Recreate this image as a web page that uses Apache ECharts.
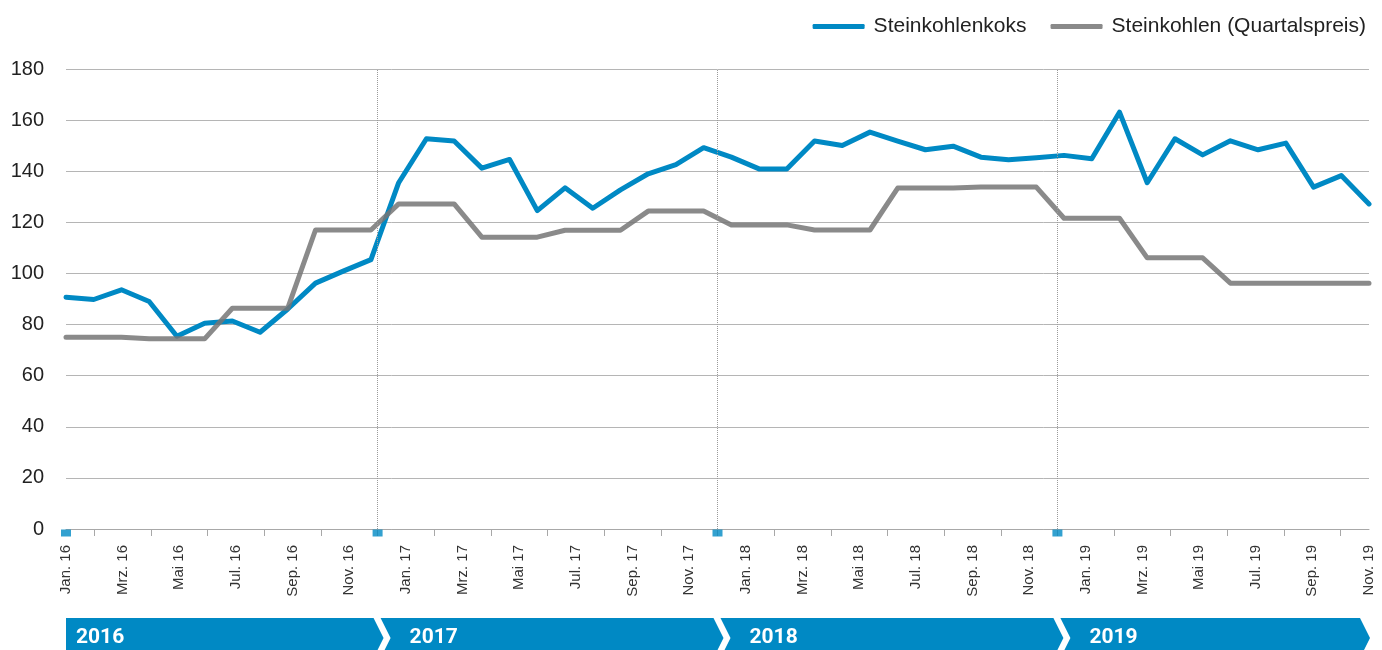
<!DOCTYPE html>
<html>
<head>
<meta charset="utf-8">
<script src="https://cdn.jsdelivr.net/npm/echarts@6/dist/echarts.min.js"></script>
<style>
html,body{margin:0;padding:0;background:#fff;}
#chart{width:1382px;height:650px;}
</style>
</head>
<body>
<div id="chart"></div>
<script>
// ---- data ----
const months = [
  'Jan. 16','Feb. 16','Mrz. 16','Apr. 16','Mai 16','Jun. 16','Jul. 16','Aug. 16','Sep. 16','Okt. 16','Nov. 16','Dez. 16',
  'Jan. 17','Feb. 17','Mrz. 17','Apr. 17','Mai 17','Jun. 17','Jul. 17','Aug. 17','Sep. 17','Okt. 17','Nov. 17','Dez. 17',
  'Jan. 18','Feb. 18','Mrz. 18','Apr. 18','Mai 18','Jun. 18','Jul. 18','Aug. 18','Sep. 18','Okt. 18','Nov. 18','Dez. 18',
  'Jan. 19','Feb. 19','Mrz. 19','Apr. 19','Mai 19','Jun. 19','Jul. 19','Aug. 19','Sep. 19','Okt. 19','Nov. 19','Dez. 19'
];
// labelled axis of the original runs Jan. 16 – Nov. 19
const labelMonths = months.slice(0, 47);
const koks = [
  90.7, 89.8, 93.6, 89.0, 75.4, 80.5, 81.4, 77.0, 86.1, 96.2, 100.9, 105.4,
  135.5, 152.7, 151.8, 141.2, 144.6, 124.6, 133.5, 125.5, 132.7, 139.0, 142.6, 149.2,
  145.5, 140.9, 140.9, 151.8, 150.1, 155.3, 151.8, 148.4, 149.8, 145.5, 144.5, 145.3,
  146.2, 144.9, 163.1, 135.5, 152.7, 146.4, 151.9, 148.4, 151.0, 133.8, 138.3, 127.2
];
const kohlen = [
  75.0, 75.0, 75.0, 74.4, 74.4, 74.4, 86.4, 86.4, 86.4, 117.0, 117.0, 117.0,
  127.2, 127.2, 127.2, 114.2, 114.2, 114.2, 116.9, 116.9, 116.9, 124.4, 124.4, 124.4,
  119.0, 119.0, 119.0, 117.0, 117.0, 117.0, 133.4, 133.4, 133.4, 133.8, 133.8, 133.8,
  121.6, 121.6, 121.6, 106.1, 106.1, 106.1, 96.2, 96.2, 96.2, 96.2, 96.2, 96.2
];
const seriesNames = ['Steinkohlenkoks', 'Steinkohlen (Quartalspreis)'];
const yearMarks = ['Jan. 16', 'Dez. 16', 'Dez. 17', 'Dez. 18'];
const years = ['2016', '2017', '2018', '2019'];
const yTicks = {min: 0, max: 180, interval: 20};

// ---- chart ----
const BLUE = '#0089c4';
const FONT = '"Liberation Sans", Arial, sans-serif';
const chart = echarts.init(document.getElementById('chart'), null, {renderer: 'canvas'});

const option = {
  animation: false,
  backgroundColor: '#fff',
  textStyle: {fontFamily: FONT},
  grid: {left: 66, right: 13, top: 69, bottom: 121, containLabel: false},
  legend: {
    data: seriesNames,
    right: 11, top: 11,
    icon: 'roundRect',
    itemWidth: 52, itemHeight: 5, itemGap: 24,
    textStyle: {fontSize: 21, color: '#222', fontFamily: FONT, padding: [0, 0, 0, 4]}
  },
  xAxis: [
    {
      type: 'category', data: months, boundaryGap: false, position: 'bottom', show: false
    },
    {
      type: 'category', data: labelMonths, boundaryGap: false, position: 'bottom',
      axisLine: {show: true, lineStyle: {color: '#a8a8a8', width: 1}},
      axisTick: {show: true, length: 7, interval: function (i) { return i % 2 === 1; },
                 lineStyle: {color: '#a8a8a8'}},
      axisLabel: {interval: 1, rotate: 90, margin: 16, fontSize: 15, color: '#333', fontFamily: FONT},
      splitLine: {show: false}
    }
  ],
  yAxis: {
    type: 'value', min: yTicks.min, max: yTicks.max, interval: yTicks.interval,
    axisLine: {show: false}, axisTick: {show: false},
    axisLabel: {fontSize: 20, color: '#222', margin: 22, fontFamily: FONT},
    splitLine: {show: true, lineStyle: {color: '#b5b5b5', width: 1}}
  },
  series: [
    {
      name: seriesNames[0], type: 'line', xAxisIndex: 0, data: koks,
      symbol: 'none', z: 3,
      lineStyle: {color: BLUE, width: 5, cap: 'round', join: 'round'},
      itemStyle: {color: BLUE}
    },
    {
      name: seriesNames[1], type: 'line', xAxisIndex: 0, data: kohlen,
      symbol: 'none', z: 4,
      lineStyle: {color: '#767676', width: 5, opacity: 0.85, cap: 'round', join: 'round'},
      itemStyle: {color: '#8a8a8a'}
    },
    {
      name: 'marks', type: 'scatter', xAxisIndex: 1, clip: false, silent: true, z: 5,
      data: yearMarks.map(m => [m, 0]),
      symbol: 'rect', symbolSize: [10, 7], symbolOffset: [0, 4],
      itemStyle: {color: BLUE},
      markLine: {
        silent: true, symbol: 'none', label: {show: false},
        lineStyle: {color: '#9a9a9a', type: 'dotted', width: 1},
        data: yearMarks.slice(1).map(m => ({xAxis: m}))
      }
    }
  ]
};
chart.setOption(option);

// ---- year banner positioned from the labelled axis ----
const px = name => chart.convertToPixel({xAxisIndex: 1}, name);
const L = px(labelMonths[0]);
const R = px(labelMonths[labelMonths.length - 1]);
const bounds = yearMarks.slice(1).map(px);
const bTop = 618, bMid = 638, bBot = 658, depth = 10;
const elements = [];
years.forEach((yr, i) => {
  const xl = i === 0 ? L : bounds[i - 1] + 3;
  const xr = i === years.length - 1 ? R - 9 : bounds[i] - 4;
  const pts = [[xl, bTop], [xr, bTop], [xr + depth, bMid], [xr, bBot], [xl, bBot]];
  if (i > 0) pts.push([xl + depth, bMid]);
  elements.push({type: 'polygon', shape: {points: pts}, style: {fill: BLUE}, silent: true});
  elements.push({
    type: 'text', silent: true,
    x: i === 0 ? L + 10 : xl + 29, y: bMid,
    style: {text: yr, fill: '#fff', font: 'bold 21px Roboto, "Liberation Sans", sans-serif',
            textVerticalAlign: 'middle', verticalAlign: 'middle'}
  });
});
chart.setOption({graphic: {elements: elements}});
</script>
</body>
</html>
